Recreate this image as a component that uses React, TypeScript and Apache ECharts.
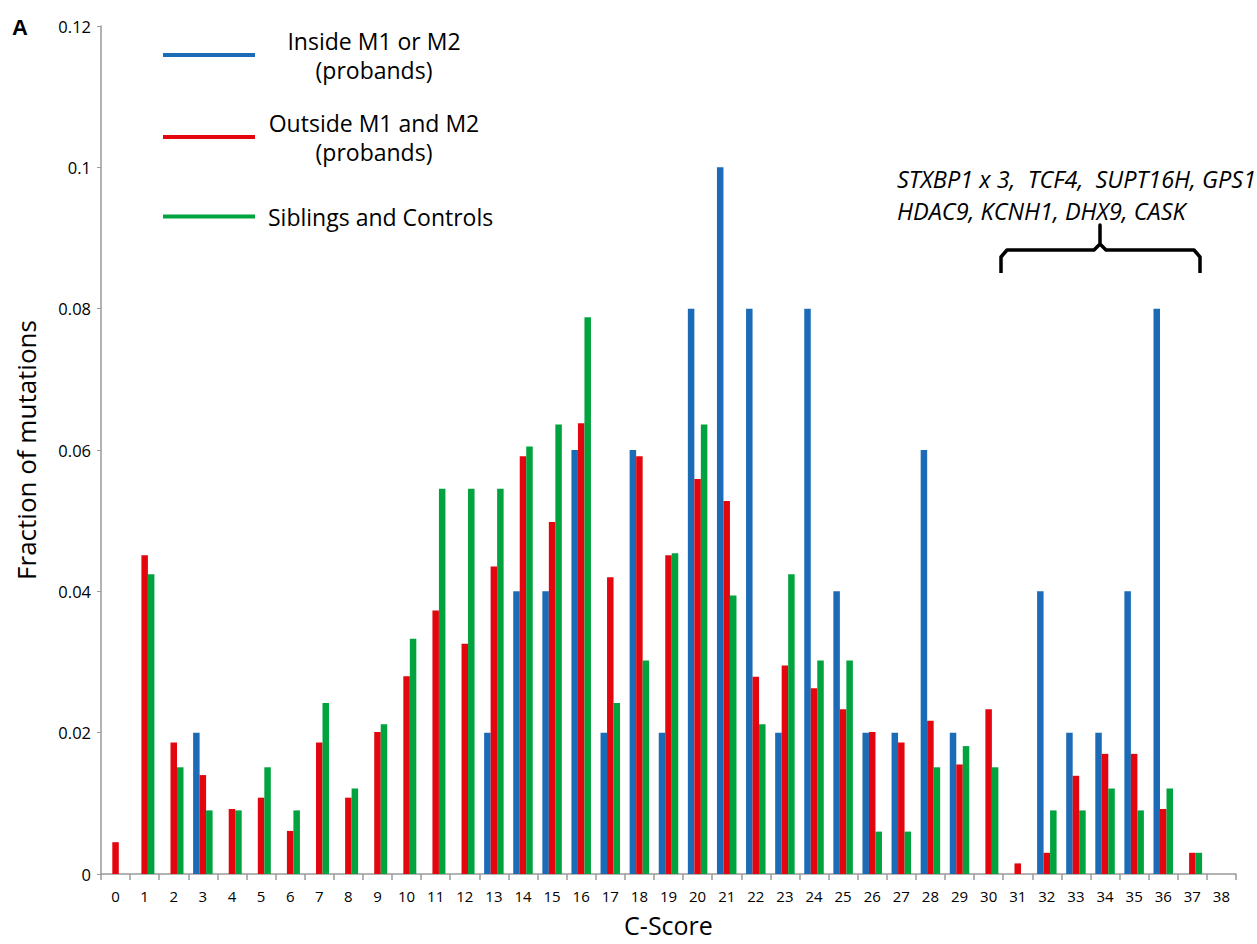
import React, { useEffect, useRef } from "react";
import * as echarts from "echarts";

const categories = Array.from({ length: 39 }, (_, i) => String(i));

const insideM1M2 = [
  0, 0, 0, 0.02, 0, 0, 0, 0, 0, 0, 0, 0, 0, 0.02, 0.04, 0.04, 0.06, 0.02, 0.06, 0.02,
  0.08, 0.1, 0.08, 0.02, 0.08, 0.04, 0.02, 0.02, 0.06, 0.02, 0, 0, 0.04, 0.02, 0.02, 0.04,
  0.08, 0, 0,
];
const outsideM1M2 = [
  0.0045, 0.0451, 0.0186, 0.014, 0.0092, 0.0108, 0.0061, 0.0186, 0.0108, 0.0201, 0.028,
  0.0373, 0.0326, 0.0435, 0.0591, 0.0498, 0.0638, 0.042, 0.0591, 0.0451, 0.0559, 0.0528,
  0.0279, 0.0295, 0.0263, 0.0233, 0.0201, 0.0186, 0.0217, 0.0155, 0.0233, 0.0015, 0.003,
  0.0139, 0.017, 0.017, 0.0092, 0.003, 0,
];
const siblingsControls = [
  0, 0.0424, 0.0151, 0.009, 0.009, 0.0151, 0.009, 0.0242, 0.0121, 0.0212, 0.0333, 0.0545,
  0.0545, 0.0545, 0.0605, 0.0636, 0.0788, 0.0242, 0.0302, 0.0454, 0.0636, 0.0394, 0.0212,
  0.0424, 0.0302, 0.0302, 0.006, 0.006, 0.0151, 0.0181, 0.0151, 0, 0.009, 0.009, 0.0121,
  0.009, 0.0121, 0.003, 0,
];

const seriesNames = [
  "Inside M1 or M2 (probands)",
  "Outside M1 and M2 (probands)",
  "Siblings and Controls",
];
const legendLines: Record<string, string[]> = {
  "Inside M1 or M2 (probands)": ["Inside M1 or M2", "(probands)"],
  "Outside M1 and M2 (probands)": ["Outside M1 and M2", "(probands)"],
  "Siblings and Controls": ["Siblings and Controls"],
};
const colors = ["#1b6bb6", "#e3060f", "#00a33e"];
const annotationLines = ["STXBP1 x 3,  TCF4,  SUPT16H, GPS1", "HDAC9, KCNH1, DHX9, CASK"];

const FONT = "'Open Sans', 'Liberation Sans', sans-serif";

export default function App() {
  const ref = useRef<HTMLDivElement>(null);
  useEffect(() => {
    document.body.style.margin = "0";
    const chart = echarts.init(ref.current!, null, { renderer: "svg" });
    const legendTops = [29, 111, 205];
    const legends = seriesNames.map((name, i) => ({
      data: [name],
      left: 163,
      top: legendTops[i],
      padding: 0,
      orient: "vertical",
      icon: "rect",
      itemWidth: 92,
      itemHeight: 4,
      selectedMode: false,
      formatter: (n: string) => {
        const lines = legendLines[n];
        if (lines.length === 1) return `{s|${lines[0]}}`;
        return lines.map((l) => `{c|${l}}`).join("\n");
      },
      textStyle: {
        fontFamily: FONT,
        fontSize: 23,
        color: "#000",
        rich: {
          c: { width: 212, align: "center", fontSize: 23, lineHeight: 29, fontFamily: FONT, color: "#000", padding: [0, 0, 0, 8] },
          s: { fontSize: 23, lineHeight: 29, fontFamily: FONT, color: "#000", padding: [0, 0, 0, 8] },
        },
      },
    }));
    const data = [insideM1M2, outsideM1M2, siblingsControls];
    chart.setOption({
      animation: false,
      textStyle: { fontFamily: FONT },
      legend: legends,
      grid: { left: 101, right: 21, top: 26, bottom: 70, containLabel: false, outerBoundsMode: "none" },
      xAxis: {
        type: "category",
        data: categories,
        name: "C-Score",
        nameLocation: "middle",
        nameGap: 38,
        nameTextStyle: { fontSize: 25, color: "#000", fontFamily: FONT },
        axisLine: { lineStyle: { color: "#9a9a9a", width: 1.5 } },
        axisTick: { show: true, alignWithLabel: false, length: 6, lineStyle: { color: "#9a9a9a", width: 1.5 } },
        axisLabel: { fontSize: 15, color: "#000", margin: 14, interval: 0, fontFamily: FONT },
      },
      yAxis: {
        type: "value",
        min: 0,
        max: 0.12,
        interval: 0.02,
        name: "Fraction of mutations",
        nameLocation: "middle",
        nameGap: 62,
        nameTextStyle: { fontSize: 26, color: "#000", fontFamily: FONT },
        axisLine: { show: true, lineStyle: { color: "#9a9a9a", width: 1.5 } },
        axisTick: { show: true, length: 4, lineStyle: { color: "#9a9a9a", width: 1 } },
        splitLine: { show: false },
        axisLabel: {
          fontSize: 16.5,
          color: "#000",
          margin: 10,
          fontFamily: FONT,
          formatter: (v: number) => String(+v.toFixed(2)),
        },
      },
      series: seriesNames.map((name, i) => ({
        name,
        type: "bar",
        data: data[i],
        barGap: "0%",
        barCategoryGap: "33%",
        itemStyle: { color: colors[i] },
      })),
      graphic: [
        {
          type: "text",
          left: 12,
          top: 16,
          style: { text: "A", font: "bold 22px 'Liberation Sans', Arial, sans-serif", fill: "#000" },
        },
        {
          type: "text",
          left: 897,
          top: 163,
          style: {
            text: annotationLines.join("\n"),
            font: `italic 23.5px ${FONT}`,
            lineHeight: 32,
            fill: "#000",
          },
        },
        {
          type: "polyline",
          shape: {
            points: [
              [1001, 273],
              [1001, 257],
              [1007, 250],
              [1094, 250],
              [1100, 244],
              [1100, 225],
              [1100, 244],
              [1106, 250],
              [1194, 250],
              [1200, 257],
              [1200, 273],
            ],
          },
          style: { stroke: "#000", lineWidth: 3.5, fill: "none", lineJoin: "round" },
        },
      ],
    });
    return () => chart.dispose();
  }, []);
  return <div ref={ref} style={{ width: 1257, height: 944 }} />;
}
